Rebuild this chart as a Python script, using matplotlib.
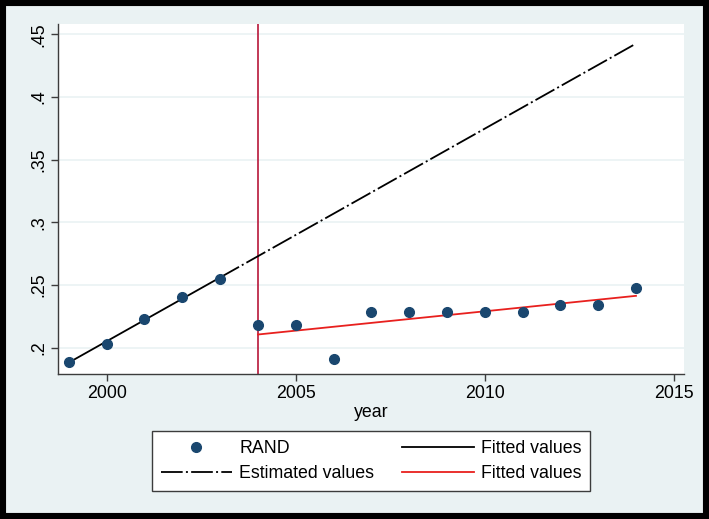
import numpy as np
import matplotlib
matplotlib.use("Agg")
import matplotlib.pyplot as plt
from matplotlib.patches import Rectangle
from matplotlib.ticker import FuncFormatter

plt.rcParams["font.family"] = ["Liberation Sans", "DejaVu Sans"]

years = np.arange(1999, 2015)
rand = [0.1888, 0.2030, 0.2229, 0.2407, 0.2548, 0.2179, 0.2180, 0.1907,
        0.2287, 0.2287, 0.2287, 0.2287, 0.2285, 0.2338, 0.2338, 0.2474]
break_year = 2004
x_ticks = [2000, 2005, 2010, 2015]
y_ticks = [0.2, 0.25, 0.3, 0.35, 0.4, 0.45]

bg = "#eaf2f3"
navy = "#1a476f"
fs = 12.8

years = np.asarray(years)
rand = np.asarray(rand)
pre = years < break_year
post = ~pre

# linear fits before / after the break
b_pre = np.polyfit(years[pre], rand[pre], 1)
b_post = np.polyfit(years[post], rand[post], 1)
x_pre = years[pre]
x_est = np.array([years[pre][-1], years[-1]])
x_post = years[post]

fig = plt.figure(figsize=(7.09, 5.19), dpi=100, facecolor=bg)
fig.patches.append(Rectangle((3 / 709, 3 / 519), 703 / 709, 513 / 519,
                             transform=fig.transFigure, fill=False,
                             edgecolor="black", linewidth=4.4))

ax = fig.add_axes([58.3 / 709, 1 - 374.3 / 519, (684 - 58.3) / 709,
                   (374.3 - 24) / 519])
ax.set_facecolor("white")

ax.axvline(break_year, color="#b8173a", linewidth=1.2, zorder=2)
ax.plot(x_est, np.polyval(b_pre, x_est), color="black", linewidth=1.3,
        dashes=(12, 1.8, 1.1, 1.8), label="Estimated values", zorder=3)
ax.plot(x_pre, np.polyval(b_pre, x_pre), color="black", linewidth=1.3,
        label="Fitted values", zorder=3)
ax.plot(x_post, np.polyval(b_post, x_post), color="#e8201e", linewidth=1.3,
        label="Fitted values ", zorder=3)
ax.plot(years, rand, "o", color=navy, markersize=7, label="RAND", zorder=4)

ax.set_xlim(1998.72, 2015.27)
ax.set_ylim(0.1787, 0.4583)
ax.set_xticks(x_ticks)
ax.set_yticks(y_ticks)
ax.yaxis.set_major_formatter(FuncFormatter(lambda v, p: f"{v:g}".lstrip("0")))
ax.grid(axis="y", color=bg, linewidth=1.2)
ax.set_axisbelow(True)

for s in ["top", "right"]:
    ax.spines[s].set_visible(False)
for s in ["left", "bottom"]:
    ax.spines[s].set_color("#3c3c3c")
    ax.spines[s].set_linewidth(1.0)

ax.tick_params(axis="both", length=5, width=1.0, color="#3c3c3c",
               labelsize=fs, pad=3)
for lab in ax.get_yticklabels():
    lab.set_rotation(90)
    lab.set_va("center")
ax.set_xlabel("year", fontsize=fs, labelpad=1)

h, l = ax.get_legend_handles_labels()
order = [3, 0, 1, 2]
leg = fig.legend([h[i] for i in order], ["RAND", "Estimated values",
                 "Fitted values", "Fitted values"],
                 ncol=2, loc="center", bbox_to_anchor=(371 / 709, 1 - 461 / 519),
                 fontsize=fs, frameon=True, fancybox=False, framealpha=1,
                 edgecolor="#3c3c3c", handlelength=4.0, handletextpad=0.4,
                 columnspacing=1.6, labelspacing=0.45, borderpad=0.5,
                 borderaxespad=0)
leg.get_frame().set_linewidth(1.0)

fig.savefig("out.png", dpi=100, facecolor=bg)
